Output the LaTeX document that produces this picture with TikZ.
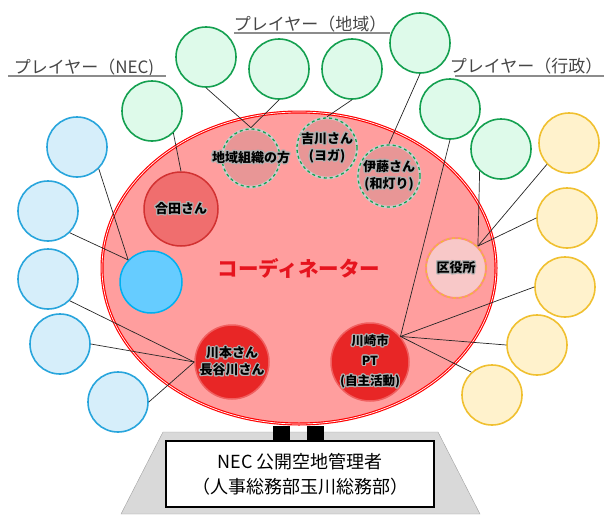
\documentclass[tikz,border=0pt]{standalone}
\usepackage{fontspec}
\setmainfont{Noto Sans CJK JP}
\usepackage[copies]{contour}
\usepackage{tikz}
\usetikzlibrary{shapes.geometric}

\definecolor{necfill}{RGB}{214,238,250}
\definecolor{necline}{RGB}{40,165,220}
\definecolor{locfill}{RGB}{222,250,234}
\definecolor{locline}{RGB}{20,160,80}
\definecolor{govfill}{RGB}{255,242,204}
\definecolor{govline}{RGB}{240,192,48}
\definecolor{coordfill}{RGB}{255,158,158}
\definecolor{coordtext}{RGB}{230,20,30}
\definecolor{godafill}{RGB}{240,110,110}
\definecolor{godaline}{RGB}{210,50,50}
\definecolor{redfill}{RGB}{232,38,38}
\definecolor{redline}{RGB}{240,95,95}
\definecolor{ringfill}{RGB}{232,150,150}
\definecolor{kuyakufill}{RGB}{248,200,200}
\definecolor{kuyakuline}{RGB}{255,140,130}
\definecolor{bluefill}{RGB}{102,204,255}
\definecolor{blueline}{RGB}{0,176,240}
\definecolor{basefill}{RGB}{217,217,217}
\definecolor{baseedge}{RGB}{160,160,160}
\definecolor{headtext}{RGB}{70,70,70}
\definecolor{headline}{RGB}{140,140,140}

\contourlength{1.1pt}
\newcommand{\glow}[1]{\contour{black!30}{#1}}

\begin{document}
\begin{tikzpicture}[x=1pt,y=-1pt,
        player/.style={circle,minimum size=60pt,inner sep=0pt,line width=1.6pt},
        nec/.style={player,draw=necline,fill=necfill},
        local/.style={player,draw=locline,fill=locfill},
        gov/.style={player,draw=govline,fill=govfill},
        member/.style={circle,inner sep=0pt,line width=1.5pt},
        dashring/.style={member,fill=ringfill,draw=black!20,line width=2.6pt,postaction={draw=locline,dashed,line width=1.3pt}},
        tag/.style={inner sep=0pt,align=center,font=\fontsize{13}{17}\selectfont\bfseries},
        link/.style={black!85,line width=0.7pt},
        heading/.style={text=headtext,inner sep=0pt,font=\fontsize{17}{20}\selectfont},
        headrule/.style={draw=headline,line width=1.2pt}]
        \useasboundingbox (0,0) rectangle (604,514);
    
        \fill[basefill,draw=baseedge] (163,432) -- (438,432) -- (480,514) -- (121,514) -- cycle;
        \fill[black] (273,426) rectangle (290,441);
        \fill[black] (307,426) rectangle (324,441);
        \node[draw=black,line width=1.5pt,fill=white,minimum width=268pt,minimum height=66pt,align=center,font=\fontsize{18}{25}\selectfont] (manager) at (300,474) {NEC 公開空地管理者\\（人事総務部玉川総務部）};
        
        \node[ellipse,minimum width=394pt,minimum height=312pt,fill=coordfill,draw=red,line width=3pt,postaction={draw=white,line width=0.7pt},text=coordtext,font=\fontsize{20.5}{24}\selectfont\bfseries] (coord) at (299,268) {コーディネーター};
        
        \node[member,minimum size=74pt,fill=godafill,draw=godaline,label={[tag]center:\glow{合田さん}}] (goda) at (181,209) {};
        \node[dashring,minimum size=58pt,label={[tag]center:\glow{地域組織の方}}] (chiiki) at (251,158) {};
        \node[dashring,minimum size=60pt,label={[tag]center:\glow{吉川さん}\\\glow{(ヨガ)}}] (yoshikawa) at (327,148) {};
        \node[dashring,minimum size=62pt,label={[tag]center:\glow{伊藤さん}\\\glow{(和灯り)}}] (ito) at (389,176) {};
        \node[member,minimum size=60pt,fill=kuyakufill,draw=kuyakuline,line width=2pt,postaction={draw=govline,dashed,line width=1.2pt},label={[tag]center:\glow{区役所}}] (kuyaku) at (456,268) {};
        \node[member,minimum size=62pt,fill=bluefill,draw=blueline] (necin) at (151,282) {};
        \node[member,minimum size=74pt,fill=redfill,draw=redline,label={[tag]center:\glow{川本さん}\\\glow{長谷川さん}}] (kawamoto) at (232,362) {};
        \node[member,minimum size=78pt,fill=redfill,draw=redline,label={[tag,font=\fontsize{12.5}{20}\selectfont\bfseries]center:\glow{川崎市}\\\glow{PT}\\\glow{(自主活動)}}] (kawasaki) at (370,362) {};
        
        \node[nec] (b1) at (77,147) {};
        \node[nec] (b2) at (48,211) {};
        \node[nec] (b3) at (48,279) {};
        \node[nec] (b4) at (60,344) {};
        \node[nec] (b5) at (118,402) {};
        
        \node[local] (g1) at (152,111) {};
        \node[local] (g2) at (206,57) {};
        \node[local] (g3) at (279,69) {};
        \node[local] (g4) at (352,69) {};
        \node[local] (g5) at (420,43) {};
        \node[local] (g6) at (450,109) {};
        \node[local] (g7) at (501,149) {};
        
        \node[gov] (y1) at (569,143) {};
        \node[gov] (y2) at (567,218) {};
        \node[gov] (y3) at (565,287) {};
        \node[gov] (y4) at (537,345) {};
        \node[gov] (y5) at (492,395) {};
        
        \draw[link] (b1.-45) -- (necin.136);
        \draw[link] (b2.-45) -- (necin.136);
        \draw[link] (b3.-45) -- (kawamoto.180);
        \draw[link] (b4.east) -- (kawamoto.180);
        \draw[link] (b5.east) -- (kawamoto.180);
        \draw[link] (g1.-46) -- (goda.north);
        \draw[link] (g2.south) -- (chiiki.north);
        \draw[link] (g3.south) -- (chiiki.north);
        \draw[link] (g4.south) -- (yoshikawa.north);
        \draw[link] (g5.south) -- (ito.north);
        \draw[link] (g6.south) -- (kawasaki.40);
        \draw[link] (g7.-134) -- (kuyaku.45);
        \draw[link] (y1.-136) -- (kuyaku.45);
        \draw[link] (y2.west) -- (kuyaku.45);
        \draw[link] (y3.west) -- (kawasaki.40);
        \draw[link] (y4.west) -- (kawasaki.40);
        \draw[link] (y5.132) -- (kawasaki.40);
        
        \node[heading] (headnec) at (84,68) {プレイヤー（NEC)};
        \node[heading] (headlocal) at (310,24) {プレイヤー（地域）};
        \node[heading] (headgov) at (526,66) {プレイヤー（行政）};
        \draw[headrule] (8,76) -- (166,76);
        \draw[headrule] (234,33) -- (390,33);
        \draw[headrule] (455,76) -- (604,76);
        
    \end{tikzpicture}
\end{document}
